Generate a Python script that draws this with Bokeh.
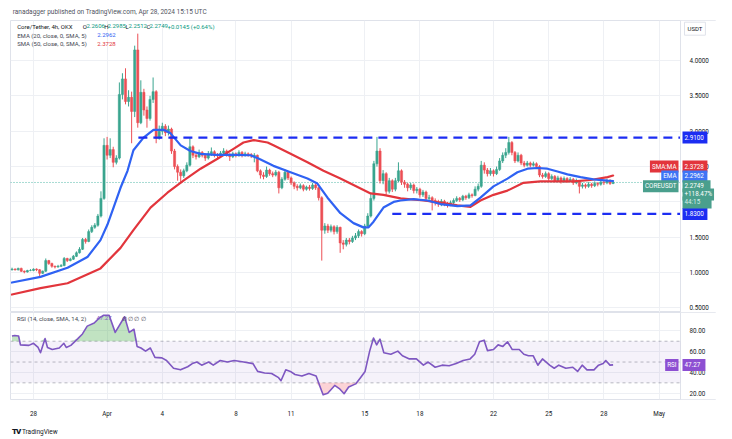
import numpy as np
from bokeh.plotting import figure
from bokeh.layouts import column
from bokeh.models import (ColumnDataSource, Range1d, FixedTicker, NumeralTickFormatter,
                          Label, BoxAnnotation, Div, Grid)
from bokeh.embed import file_html
from bokeh.resources import INLINE

FONT = "Roboto"

# ---------------- data ----------------
# day 0 = Mar 28 00:00; first 4h bar opens Mar 26 20:00
bar_start_day = -7 / 6
bar_hours = 4
first_open = 1.04

closes = [1.05, 1.04, 1.06, 1.02, 1.01, 1.03, 1.03, 1.05, 1.04, 0.99,
          1.02, 1.17, 1.13, 1.09, 1.08, 1.09, 1.10, 1.20, 1.17, 1.19,
          1.23, 1.28, 1.33, 1.47, 1.44, 1.58, 1.64, 1.67, 1.80, 2.05,
          2.80, 2.66, 2.74, 2.56, 2.62, 3.52, 3.74, 3.42, 3.48, 3.28,
          4.15, 3.12, 3.55, 3.30, 3.18, 3.45, 3.56, 2.90, 3.00, 3.07,
          2.98, 3.03, 2.72, 2.50, 2.42, 2.37, 2.44, 2.52, 2.78, 2.66,
          2.64, 2.70, 2.66, 2.62, 2.68, 2.71, 2.66, 2.65, 2.69, 2.72,
          2.67, 2.64, 2.68, 2.66, 2.70, 2.66, 2.68, 2.67, 2.65, 2.66,
          2.44, 2.38, 2.36, 2.45, 2.40, 2.38, 2.42, 2.20, 2.32, 2.42,
          2.34, 2.27, 2.22, 2.20, 2.23, 2.18, 2.21, 2.19, 2.24, 2.20,
          2.06, 1.60, 1.66, 1.60, 1.65, 1.58, 1.64, 1.42, 1.40, 1.46,
          1.44, 1.49, 1.52, 1.58, 1.55, 1.66, 1.80, 2.05, 2.54, 2.72,
          2.30, 2.40, 2.15, 2.30, 2.18, 2.30, 2.44, 2.28, 2.25, 2.20,
          2.24, 2.16, 2.18, 2.10, 2.14, 2.05, 2.06, 2.02, 2.00, 1.97,
          2.01, 1.98, 1.96, 1.99, 2.02, 2.05, 2.03, 2.08, 2.06, 2.10,
          2.09, 2.18, 2.22, 2.52, 2.45, 2.40, 2.44, 2.40, 2.46, 2.58,
          2.66, 2.70, 2.84, 2.70, 2.58, 2.66, 2.55, 2.52, 2.55, 2.52,
          2.54, 2.50, 2.38, 2.36, 2.40, 2.33, 2.36, 2.30, 2.34, 2.29,
          2.33, 2.30, 2.32, 2.27, 2.30, 2.22, 2.24, 2.22, 2.25, 2.23,
          2.26, 2.25, 2.28, 2.27, 2.30, 2.2606, 2.2749]

highs = [1.07, 1.06, 1.07, 1.07, 1.03, 1.04, 1.05, 1.06, 1.06, 1.05,
         1.03, 1.20, 1.18, 1.14, 1.10, 1.11, 1.12, 1.22, 1.21, 1.21,
         1.25, 1.30, 1.36, 1.49, 1.49, 1.61, 1.67, 1.70, 1.83, 2.15,
         2.90, 2.92, 2.90, 2.78, 2.66, 3.69, 3.82, 3.89, 3.58, 3.56,
         4.21, 4.38, 3.72, 3.60, 3.35, 3.50, 3.76, 3.58, 3.08, 3.12,
         3.10, 3.08, 3.05, 2.75, 2.53, 2.46, 2.47, 2.56, 2.91, 2.80,
         2.69, 2.74, 2.72, 2.68, 2.72, 2.77, 2.73, 2.69, 2.72, 2.76,
         2.74, 2.69, 2.71, 2.70, 2.73, 2.72, 2.71, 2.70, 2.69, 2.69,
         2.67, 2.46, 2.42, 2.50, 2.47, 2.43, 2.45, 2.44, 2.35, 2.46,
         2.43, 2.36, 2.29, 2.25, 2.26, 2.25, 2.23, 2.24, 2.27, 2.26,
         2.21, 2.08, 1.70, 1.69, 1.68, 1.67, 1.67, 1.65, 1.46, 1.49,
         1.49, 1.52, 1.56, 1.61, 1.60, 1.69, 1.84, 2.12, 2.58, 2.92,
         2.76, 2.45, 2.42, 2.34, 2.32, 2.34, 2.56, 2.46, 2.31, 2.27,
         2.27, 2.26, 2.21, 2.20, 2.17, 2.16, 2.10, 2.08, 2.05, 2.03,
         2.04, 2.03, 2.00, 2.02, 2.05, 2.08, 2.07, 2.10, 2.10, 2.13,
         2.12, 2.22, 2.26, 2.58, 2.56, 2.48, 2.48, 2.46, 2.50, 2.62,
         2.70, 2.76, 2.92, 2.86, 2.72, 2.70, 2.68, 2.58, 2.58, 2.57,
         2.57, 2.56, 2.52, 2.41, 2.43, 2.42, 2.39, 2.38, 2.37, 2.36,
         2.36, 2.35, 2.35, 2.34, 2.33, 2.31, 2.27, 2.26, 2.28, 2.27,
         2.29, 2.28, 2.31, 2.31, 2.33, 2.32, 2.2985]

lows = [1.03, 1.03, 1.03, 1.01, 0.99, 1.00, 1.02, 1.02, 1.02, 0.94,
        0.98, 1.01, 1.11, 1.07, 1.06, 1.07, 1.08, 1.09, 1.15, 1.16,
        1.18, 1.22, 1.27, 1.32, 1.41, 1.43, 1.56, 1.62, 1.65, 1.78,
        2.03, 2.60, 2.62, 2.49, 2.53, 2.60, 3.45, 3.38, 3.35, 2.83,
        3.20, 3.05, 3.10, 3.22, 3.05, 3.15, 3.40, 2.83, 2.88, 2.95,
        2.93, 2.94, 2.68, 2.46, 2.30, 2.26, 2.34, 2.42, 2.50, 2.62,
        2.60, 2.62, 2.63, 2.58, 2.60, 2.65, 2.63, 2.60, 2.63, 2.66,
        2.64, 2.58, 2.62, 2.63, 2.64, 2.63, 2.64, 2.64, 2.62, 2.56,
        2.42, 2.33, 2.32, 2.34, 2.37, 2.35, 2.36, 2.12, 2.18, 2.30,
        2.31, 2.24, 2.18, 2.16, 2.18, 2.15, 2.16, 2.16, 2.17, 2.17,
        2.02, 1.17, 1.55, 1.56, 1.57, 1.54, 1.55, 1.28, 1.33, 1.37,
        1.40, 1.42, 1.46, 1.49, 1.51, 1.53, 1.63, 1.78, 2.02, 2.50,
        2.26, 2.25, 2.10, 2.12, 2.14, 2.15, 2.28, 2.24, 2.20, 2.15,
        2.17, 2.12, 2.12, 2.06, 2.07, 2.01, 2.00, 1.88, 1.95, 1.93,
        1.94, 1.94, 1.92, 1.94, 1.96, 2.00, 2.00, 2.01, 2.03, 2.04,
        2.06, 2.08, 2.15, 2.20, 2.40, 2.36, 2.37, 2.36, 2.38, 2.44,
        2.55, 2.62, 2.67, 2.66, 2.55, 2.56, 2.52, 2.49, 2.50, 2.49,
        2.50, 2.47, 2.35, 2.33, 2.34, 2.30, 2.31, 2.28, 2.28, 2.26,
        2.27, 2.27, 2.28, 2.24, 2.25, 2.12, 2.19, 2.19, 2.20, 2.20,
        2.21, 2.22, 2.23, 2.24, 2.25, 2.24, 2.2512]

# EMA(20) and SMA(50) (day, value)
ema_day = [-1.17, 0.38, 1.85, 2.93, 3.64, 4.02, 4.35, 4.73, 5.11, 5.43, 5.98, 6.52, 7.07,
           7.45, 8.00, 8.53, 9.08, 9.89, 10.87, 11.79, 12.17, 13.04, 13.97, 14.89, 15.43,
           15.98, 16.68, 17.39, 17.93, 18.21, 18.48, 19.02, 19.57, 19.95, 20.65, 21.41,
           22.12, 23.04, 23.75, 24.29, 25.00, 25.76, 26.30, 26.85, 27.39, 27.93, 28.48,
           29.02, 29.73, 30.43, 31.20, 31.50]
ema_val = [0.86, 0.94, 1.07, 1.22, 1.46, 1.68, 1.92, 2.20, 2.44, 2.73, 2.91, 3.02, 3.02,
           2.97, 2.80, 2.72, 2.68, 2.665, 2.665, 2.66, 2.62, 2.51, 2.42, 2.33, 2.26,
           2.06, 1.84, 1.70, 1.64, 1.64, 1.72, 1.92, 2.00, 2.02, 2.04, 2.02,
           1.97, 1.94, 1.95, 2.06, 2.22, 2.33, 2.42, 2.47, 2.48, 2.47, 2.43,
           2.39, 2.35, 2.32, 2.30, 2.2962]
sma_day = [-1.17, 0.38, 1.85, 3.64, 4.73, 5.43, 6.36, 7.28, 8.15, 9.08, 10.00, 10.87,
           11.41, 11.96, 12.72, 13.04, 13.97, 14.89, 15.76, 16.68, 17.61, 18.32, 19.02,
           19.95, 21.20, 22.12, 23.04, 23.75, 24.29, 25.00, 25.76, 26.63, 27.55, 29.35,
           30.27, 31.20, 31.50]
sma_val = [0.69, 0.78, 0.85, 1.06, 1.35, 1.60, 1.92, 2.13, 2.30, 2.47, 2.61, 2.75,
           2.84, 2.875, 2.84, 2.80, 2.68, 2.56, 2.44, 2.33, 2.21, 2.12, 2.10,
           2.05, 2.02, 1.99, 1.95, 1.93, 2.02, 2.10, 2.16, 2.27, 2.29, 2.29,
           2.31, 2.35, 2.3728]

# horizontal levels (value, start day)
level_val = [2.91, 1.83]
level_start_day = [5.7, 19.5]

# RSI(14)
rsi_day = [-1.17, -1.02, -0.81, -0.71, -0.25, 0.0, 0.25, 0.38, 0.63, 0.76, 1.02, 1.40,
           1.65, 1.78, 2.03, 2.41, 2.66, 2.92, 3.30, 3.55, 3.81, 4.11, 4.44, 4.95, 5.20,
           5.46, 5.63, 5.84, 6.09, 6.35, 6.60, 6.98, 7.23, 7.61, 7.99, 8.38, 8.63, 8.88,
           9.14, 9.52, 9.77, 10.15, 10.53, 10.91, 11.42, 11.93, 12.18, 12.56, 12.94,
           13.32, 13.45, 13.71, 13.96, 14.21, 14.59, 14.97, 15.36, 15.61, 15.74, 15.99,
           16.37, 16.62, 16.88, 17.13, 17.51, 17.77, 18.02, 18.27, 18.48, 18.65, 18.83,
           19.04, 19.42, 19.80, 20.05, 20.43, 20.81, 21.19, 21.45, 21.83, 22.21, 22.59,
           22.97, 23.35, 23.73, 23.98, 24.24, 24.49, 24.67, 25.00, 25.25, 25.51, 25.76,
           26.02, 26.40, 26.65, 26.90, 27.16, 27.41, 27.66, 28.05, 28.30, 28.55, 28.93,
           29.31, 29.57, 29.82, 30.08, 30.46, 30.71, 30.96, 31.10, 31.33, 31.50]
rsi_val = [75, 75.5, 75, 66.5, 66, 68, 64, 59, 72.5, 64, 62, 63.5,
           68, 64, 66, 72.5, 77, 84.5, 87.5, 92, 95, 95, 78.5, 93.5, 78.5,
           81.5, 65, 63.5, 60.5, 63.5, 54.5, 54, 51.5, 44, 42.5, 45.5, 48.5, 50,
           47, 50, 47, 51.5, 50, 51.5, 50, 48.5, 41, 39.5, 39,
           35, 32, 42.5, 41, 38, 36.5, 39, 36.5, 24.5, 18.5, 20,
           27.5, 24.5, 19.5, 26, 29, 35, 41, 60.5, 73, 66.5, 72,
           59, 57.5, 60.5, 56, 53, 53, 47, 50, 45, 47, 46.5,
           48.5, 51.5, 53, 57.5, 69.5, 71, 61, 62, 66.5, 65, 69.5,
           62, 62, 57.5, 56, 56, 47, 53, 47, 44, 47, 44,
           45, 41, 47, 42.5, 42.5, 47, 48.5, 51.5, 47, 47.27]
rsi_bands = [70, 50, 30]

tick_days = [0, 4, 7, 11, 14, 18, 21, 25, 28, 31, 34]
tick_labels = ["28", "Apr", "4", "8", "11", "15", "18", "22", "25", "28", "May"]
price_ticks = [0.5, 1.0, 1.5, 2.0, 2.5, 3.0, 3.5, 4.0]
rsi_ticks = [20, 40, 60, 80]

# ---------------- styling / geometry ----------------
UP, DOWN = "#3aa58f", "#ec4f55"
EMA_C, SMA_C = "#2f62f3", "#e2353c"
LEVEL_C = "#1c2df2"
RSI_C = "#7e57c2"
GRID_C = "#eef0f4"
BORDER_C = "#dfe2ea"
TXT = "#131722"
PX_PER_DAY = 18.4
X0 = -1.25                   # left edge of the chart (page x 10)
XA = 35.16                   # price-scale boundary (page x 680)
X1 = X0 + 706 / PX_PER_DAY   # right edge incl. price scale (page x 716)
FS = "6.3px"
W = 716


def day_at(px):
    """page x pixel -> day coordinate (text placement only)"""
    return (px - 33) / PX_PER_DAY


n = len(closes)
days = bar_start_day + np.arange(n) * bar_hours / 24.0
opens = [first_open] + closes[:-1]
top = np.maximum(opens, closes)
bot = np.minimum(opens, closes)
col = [UP if c >= o else DOWN for o, c in zip(opens, closes)]
src = ColumnDataSource(dict(x=days, h=highs, l=lows, top=top, bot=bot, color=col))


def style_yaxis(p, ticks, fmt):
    ax = p.yaxis[0]
    ax.fixed_location = XA
    ax.ticker = FixedTicker(ticks=ticks)
    ax.formatter = NumeralTickFormatter(format=fmt)
    ax.major_label_text_font_size = FS
    ax.major_label_text_font = FONT
    ax.major_label_text_color = TXT
    ax.major_tick_line_color = None
    ax.minor_tick_line_color = None
    ax.axis_line_color = BORDER_C
    ax.major_label_standoff = 3
    p.ygrid.ticker = FixedTicker(ticks=ticks)
    p.ygrid.grid_line_color = GRID_C
    p.add_layout(BoxAnnotation(left=XA, fill_color="white", fill_alpha=1.0,
                               line_alpha=0, level="underlay"))


def tag(p, text, y, px, bg, align="left", color="white"):
    p.add_layout(Label(x=day_at(px), y=y, text=text, text_align=align,
                       text_baseline="middle", text_color=color, text_font_size=FS,
                       text_font=FONT, background_fill_color=bg,
                       background_fill_alpha=1.0, padding=2))


def txt(p, text, y, px, color, size="6px"):
    p.add_layout(Label(x=day_at(px), y=y, text=text, text_align="left",
                       text_baseline="middle", text_color=color, text_font_size=size,
                       text_font=FONT))


# ---------------- price pane ----------------
p1 = figure(width=W, height=292, x_range=Range1d(X0, X1), y_range=Range1d(0.436, 4.566),
            output_backend="svg", toolbar_location=None, y_axis_location="right",
            x_axis_location=None, min_border_left=10, min_border_right=0,
            min_border_top=0, min_border_bottom=0)
p1.outline_line_color = BORDER_C
for g in p1.xgrid:
    g.visible = False
p1.add_layout(Grid(dimension=0, ticker=FixedTicker(ticks=tick_days), grid_line_color=GRID_C))
style_yaxis(p1, price_ticks, "0.0000")

p1.segment(x0=[X0], y0=[closes[-1]], x1=[XA], y1=[closes[-1]], line_color="#089981",
           line_alpha=0.7, line_dash="1 2", line_width=1)

p1.segment("x", "h", "x", "l", color="color", line_width=1, source=src)
p1.vbar(x="x", top="top", bottom="bot", width=0.12, fill_color="color",
        line_color="color", line_width=0.5, source=src)

p1.line(sma_day, sma_val, line_color=SMA_C, line_width=2.2, line_join="round", line_cap="round")
p1.line(ema_day, ema_val, line_color=EMA_C, line_width=2.2, line_join="round", line_cap="round")

p1.segment(x0=level_start_day, y0=level_val, x1=[XA] * len(level_val), y1=level_val,
           line_color=LEVEL_C, line_width=2.2, line_dash="9 6")

# legend
L1, L2, L3 = 4.485, 4.358, 4.236
txt(p1, "Core/Tether, 4h, OKX", L1, 16.7, TXT)
for s, x, c in [("O", 82.3, TXT), ("2.2606", 86, "#089981"), ("H", 103.7, TXT),
                ("2.2985", 107, "#089981"), ("L", 125, TXT), ("2.2512", 128, "#089981"),
                ("C", 146, TXT), ("2.2749", 149, "#089981"),
                ("+0.0145 (+0.64%)", 167, "#089981")]:
    txt(p1, s, L1, x, c)
txt(p1, "EMA (20, close, 0, SMA, 5)", L2, 16.7, "#434651")
txt(p1, "2.2962", L2, 96.7, EMA_C)
txt(p1, "SMA (50, close, 0, SMA, 5)", L3, 16.7, "#434651")
txt(p1, "2.3728", L3, 96.7, SMA_C)

# price-scale tags
p1.add_layout(Label(x=day_at(684), y=4.45, text="USDT", text_align="left",
                    text_baseline="middle", text_color=TXT, text_font_size="6px",
                    text_font=FONT, background_fill_color="white",
                    border_line_color=BORDER_C, padding=3))
tag(p1, "2.9100 ", level_val[0], 682, LEVEL_C)
tag(p1, "1.8300 ", level_val[1], 682, LEVEL_C)
tag(p1, "2.3728 ", 2.50, 682, SMA_C)
tag(p1, "SMA:MA", 2.50, 678, SMA_C, align="right")
tag(p1, "2.2962 ", 2.36, 682, "#3f74f5")
tag(p1, "EMA", 2.36, 678, "#3f74f5", align="right")
tag(p1, "COREUSDT", 2.22, 678, "#4a9f8d", align="right")
tag(p1, "2.2749   ", 2.22, 682, "#4a9f8d")
tag(p1, "+118.47%", 2.105, 682, "#4a9f8d")
tag(p1, "44:15      ", 1.992, 682, "#4a9f8d", color="#d6eee8")

# ---------------- RSI pane ----------------
p2 = figure(width=W, height=108, x_range=p1.x_range, y_range=Range1d(14, 97.6),
            output_backend="svg", toolbar_location=None, y_axis_location="right",
            min_border_left=10, min_border_right=0, min_border_top=0, min_border_bottom=15)
p2.outline_line_color = BORDER_C
xa = p2.xaxis[0]
xa.ticker = FixedTicker(ticks=tick_days)
xa.major_label_overrides = {d: s for d, s in zip(tick_days, tick_labels)}
xa.major_label_text_font_size = FS
xa.major_label_text_font = FONT
xa.major_label_text_color = TXT
xa.major_tick_line_color = None
xa.minor_tick_line_color = None
xa.axis_line_color = None
xa.major_label_standoff = 4
p2.xgrid.ticker = FixedTicker(ticks=tick_days)
p2.xgrid.grid_line_color = GRID_C
style_yaxis(p2, rsi_ticks, "0.00")

p2.add_layout(BoxAnnotation(left=X0, right=XA, bottom=30, top=70, fill_color=RSI_C,
                            fill_alpha=0.08, line_alpha=0))
p2.segment(x0=[X0] * 3, y0=rsi_bands, x1=[XA] * 3, y1=rsi_bands, line_color="#787b86",
           line_alpha=0.5, line_dash="3 3", line_width=1)
rsi_arr = np.array(rsi_val, dtype=float)
p2.varea(x=rsi_day, y1=70, y2=np.maximum(rsi_arr, 70), fill_color="#4caf50", fill_alpha=0.35)
p2.varea(x=rsi_day, y1=np.minimum(rsi_arr, 30), y2=30, fill_color="#f23645", fill_alpha=0.22)
p2.line(rsi_day, rsi_val, line_color=RSI_C, line_width=1.6, line_join="round")

txt(p2, "RSI (14, close, SMA, 14, 2)", 92, 16.6, "#434651")
txt(p2, "47.27", 92, 96, RSI_C)
txt(p2, "\u2205  \u2205  \u2205  \u2205", 92, 121, "#434651")
tag(p2, "47.27  ", rsi_val[-1], 682, "#8d4fd2")
tag(p2, "RSI", rsi_val[-1], 678, "#8d4fd2", align="right")

# ---------------- header / footer ----------------
header = Div(text="ranadagger published on TradingView.com, Apr 28, 2024 15:15 UTC",
             width=W, height=20, margin=0,
             styles={"font-family": FONT, "font-size": "6.5px", "color": "#50535e",
                     "padding-left": "12.7px", "padding-top": "8px", "line-height": "9px",
                     "box-sizing": "border-box"})
footer = Div(text='<span style="font-weight:900;font-size:8px;letter-spacing:-1px">TV</span>'
                  ' TradingView',
             width=W, height=19, margin=0,
             styles={"font-family": FONT, "font-size": "6.5px", "color": TXT,
                     "padding-left": "12px", "padding-top": "7px", "line-height": "9px",
                     "box-sizing": "border-box"})

layout = column(header, p1, p2, footer, spacing=0)
open("out.html", "w").write(file_html(layout, INLINE))
